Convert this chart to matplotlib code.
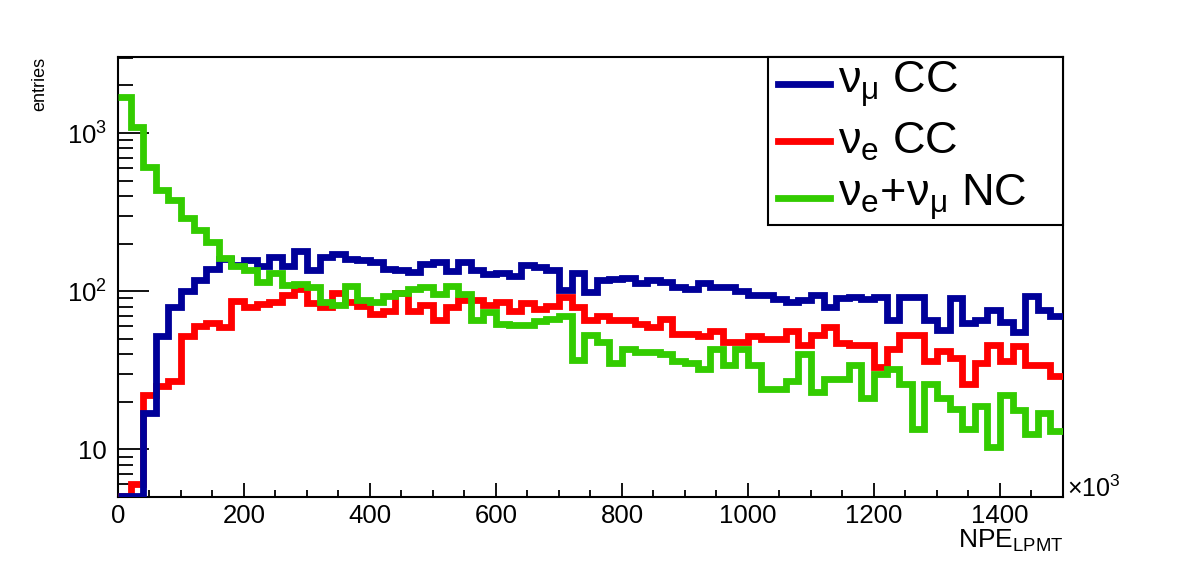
import matplotlib
matplotlib.use("Agg")
import matplotlib.pyplot as plt
import numpy as np
from matplotlib.lines import Line2D
from matplotlib.patches import Rectangle
from matplotlib.ticker import FixedLocator, FixedFormatter, LogLocator, MultipleLocator, NullFormatter

plt.rcParams["font.family"] = ["Liberation Sans", "DejaVu Sans"]
plt.rcParams["mathtext.fontset"] = "custom"
plt.rcParams["mathtext.rm"] = "Liberation Sans"
plt.rcParams["mathtext.it"] = "Liberation Sans:italic"
plt.rcParams["mathtext.bf"] = "Liberation Sans:bold"

# NPE_LPMT axis in units of 10^3, 75 bins of width 20
X_MIN = 0.0
X_MAX = 1500.0
N_BINS = 75
bin_edges = np.linspace(X_MIN, X_MAX, N_BINS + 1)

numu_cc = [
    5.1, 5.1, 17, 52, 79, 100, 118, 138, 161, 147,
    158, 144, 164, 144, 180, 137, 164, 172, 160, 157,
    152, 138, 137, 132, 148, 152, 134, 153, 136, 129,
    130, 124, 146, 143, 137, 102, 130, 99, 117, 119,
    121, 113, 117, 114, 106, 103, 113, 106, 107, 100,
    95, 95, 89, 85, 88, 95, 79, 91, 92, 89,
    92, 66, 92, 92, 66, 57, 90, 63, 66, 76,
    64, 55, 93, 76, 70,
]
nue_cc = [
    5.1, 6, 22, 25, 27, 52, 60, 63, 59, 87,
    79, 83, 85, 95, 103, 84, 80, 97, 86, 81,
    72, 75, 98, 75, 82, 66, 80, 88, 88, 82,
    85, 75, 84, 77, 81, 92, 80, 66, 70, 66,
    66, 62, 59, 67, 54, 54, 52, 56, 48, 48,
    52, 50, 50, 56, 46, 53, 59, 47, 46, 46,
    33, 43, 53, 53, 36, 42, 38, 26, 35, 46,
    36, 45, 34, 34, 29,
]
nc = [
    1700, 1100, 610, 438, 375, 290, 245, 204, 163, 144,
    137, 115, 131, 110, 111, 107, 86, 82, 108, 88,
    85, 93, 97, 104, 106, 96, 108, 96, 66, 74,
    62, 61, 61, 65, 67, 70, 37, 53, 48, 35,
    43, 41, 41, 40, 36, 35, 32, 43, 34, 43,
    34, 24, 24, 27, 40, 23, 28, 28, 34, 21,
    30, 32, 26, 13.5, 26, 21, 18, 13.5, 18.7, 10.3,
    22, 17.8, 12.5, 17, 13,
]

labels = [
    "ν$_{\\mathrm{μ}}$ CC",
    "ν$_{\\mathrm{e}}$ CC",
    "ν$_{\\mathrm{e}}$+ν$_{\\mathrm{μ}}$ NC",
]
colors = ["#000099", "#ff0000", "#33cc00"]
series = [numu_cc, nue_cc, nc]
draw_order = [1, 0, 2]  # red under blue, green on top

Y_MIN = 5.0
Y_MAX = 3030.0
LW = 4.9

fig = plt.figure(figsize=(11.82, 5.65), dpi=100)
ax = fig.add_axes([0.0998, 0.1204, 0.7995, 0.7788])

for k in draw_order:
    ax.stairs(series[k], bin_edges, baseline=None, color=colors[k], linewidth=LW,
              joinstyle="miter", zorder=3)

ax.set_yscale("log")
ax.set_xlim(X_MIN, X_MAX)
ax.set_ylim(Y_MIN, Y_MAX)

ax.xaxis.set_major_locator(MultipleLocator(200))
ax.xaxis.set_minor_locator(MultipleLocator(50))
ax.yaxis.set_major_locator(FixedLocator([10, 100, 1000]))
ax.yaxis.set_major_formatter(FixedFormatter(["10", "$10^{2}$", "$10^{3}$"]))
ax.yaxis.set_minor_locator(LogLocator(base=10, subs=np.arange(2, 10)))
ax.yaxis.set_minor_formatter(NullFormatter())

ax.tick_params(axis="both", which="both", direction="in", top=False, right=False,
               width=1.3, labelsize=18.5)
ax.tick_params(axis="y", which="major", length=22, pad=8)
ax.tick_params(axis="y", which="minor", length=11)
ax.tick_params(axis="x", which="major", length=10, pad=5)
ax.tick_params(axis="x", which="minor", length=5)
for sp in ax.spines.values():
    sp.set_linewidth(1.5)

# legend box in the upper right corner
leg_x0, leg_y0 = 0.688, 0.618
ax.add_patch(Rectangle((leg_x0, leg_y0), 1 - leg_x0, 1 - leg_y0, transform=ax.transAxes,
                       facecolor="white", edgecolor="black", linewidth=1.5,
                       zorder=5, clip_on=False))
row_y = [0.938, 0.808, 0.680]
for yy, lab, col in zip(row_y, labels, colors):
    ax.add_line(Line2D([0.698, 0.753], [yy, yy], transform=ax.transAxes, color=col,
                       linewidth=LW, zorder=6, clip_on=False))
    ax.text(0.762, yy, lab, transform=ax.transAxes, fontsize=32.5, va="center",
            ha="left", zorder=6)

fig.text(0.8993, 0.030, "NPE$_{\\mathrm{LPMT}}$", fontsize=19, ha="right", va="baseline")
fig.text(0.9025, 0.121, "×10$^{3}$", fontsize=18, ha="left", va="baseline")
fig.text(0.034, 0.899, "entries", fontsize=13, rotation=90, ha="center", va="top")

fig.savefig("out.png", dpi=100)
